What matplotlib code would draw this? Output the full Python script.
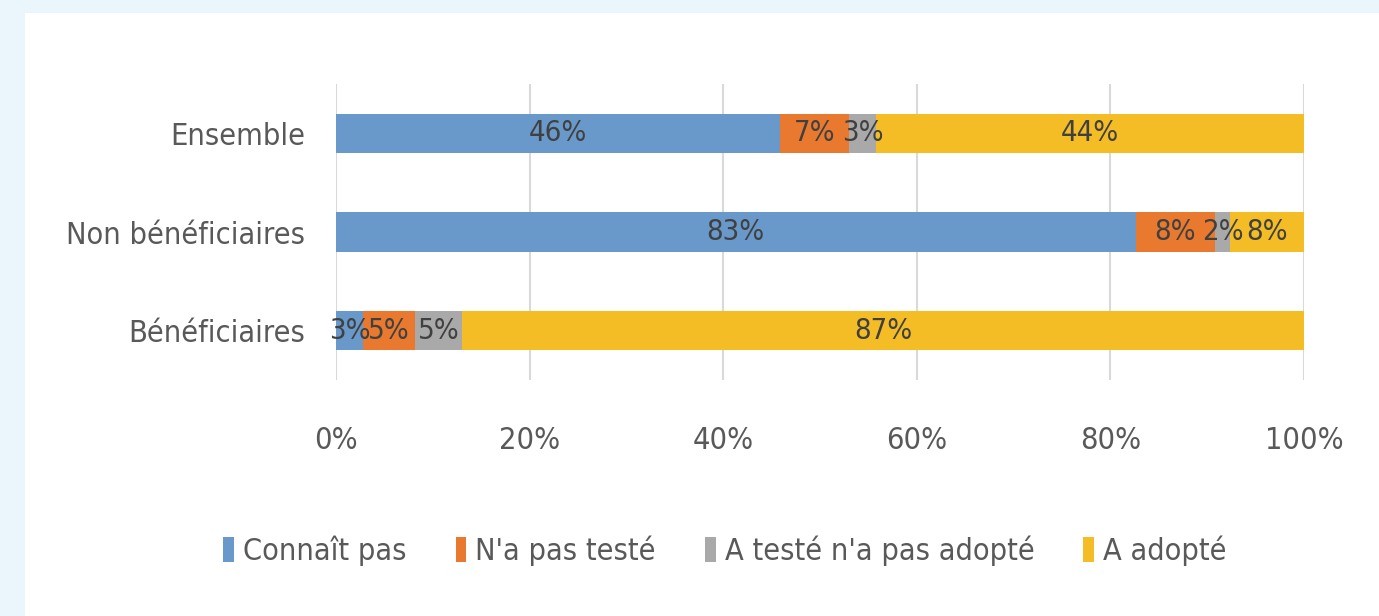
import matplotlib.pyplot as plt
from matplotlib.patches import Patch, Rectangle
from matplotlib.ticker import PercentFormatter

categories = ["Bénéficiaires", "Non bénéficiaires", "Ensemble"]
series = ["Connaît pas", "N'a pas testé", "A testé n'a pas adopté", "A adopté"]
connait_pas = [2.8, 82.6, 45.9]
pas_teste = [5.4, 8.2, 7.1]
teste_non_adopte = [4.8, 1.6, 2.8]
adopte = [87.0, 7.6, 44.2]
labels = [
    ["3%", "83%", "46%"],
    ["5%", "8%", "7%"],
    ["5%", "2%", "3%"],
    ["87%", "8%", "44%"],
]
colors = ["#6899CA", "#E8792F", "#A9A9A9", "#F4BC25"]

plt.rcParams["font.family"] = ["DejaVu Sans"]
plt.rcParams["font.stretch"] = "condensed"
text_color = "#595959"

fig = plt.figure(figsize=(13.79, 6.16), dpi=100)
fig.patch.set_facecolor("#EAF5FC")
fig.patches.append(Rectangle((25 / 1379, 0), 1, 1 - 13 / 616, transform=fig.transFigure,
                             facecolor="white", edgecolor="none", zorder=-5))

ax = fig.add_axes([336 / 1379, 1 - 380 / 616, 968 / 1379, 296 / 616])
ax.set_facecolor("none")

left = [0, 0, 0]
for vals, lab, col in zip([connait_pas, pas_teste, teste_non_adopte, adopte], labels, colors):
    bars = ax.barh(categories, vals, left=left, height=0.4, color=col, zorder=2)
    ax.bar_label(bars, labels=lab, label_type="center", fontsize=21, color="#404040")
    left = [l + v for l, v in zip(left, vals)]

ax.set_xlim(0, 100)
ax.set_ylim(-0.5, 2.5)
ax.set_xticks(range(0, 101, 20))
ax.xaxis.set_major_formatter(PercentFormatter(100))
ax.grid(axis="x", color="#D9D9D9", linewidth=1.5, zorder=0)
ax.tick_params(axis="both", length=0, labelsize=22, labelcolor=text_color)
ax.tick_params(axis="x", pad=33)
ax.tick_params(axis="y", pad=22)
for s in ax.spines.values():
    s.set_visible(False)

handles = [Patch(facecolor=c, edgecolor="none") for c in colors]
fig.legend(handles, series, loc="center", bbox_to_anchor=(725 / 1379, 1 - 551 / 616),
           ncol=4, frameon=False, fontsize=22, labelcolor=text_color,
           handlelength=0.35, handleheight=0.9, handletextpad=0.3, columnspacing=1.6)

fig.savefig("out.png", dpi=100)
